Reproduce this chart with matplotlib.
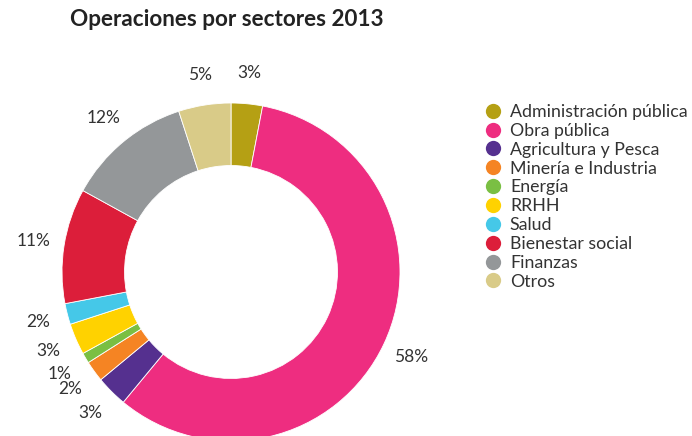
import matplotlib
matplotlib.use("Agg")
import matplotlib.pyplot as plt
from matplotlib.lines import Line2D

categories = ["Administración pública", "Obra pública", "Agricultura y Pesca",
              "Minería e Industria", "Energía", "RRHH", "Salud",
              "Bienestar social", "Finanzas", "Otros"]
values = [3, 58, 3, 2, 1, 3, 2, 11, 12, 5]
colors = ["#b5a014", "#ee2d80", "#55308f", "#f58423", "#7abf43",
          "#ffd200", "#45c8e8", "#dc1e3a", "#949799", "#d9cb88"]
title = "Operaciones por sectores 2013"

plt.rcParams['font.family'] = ['Lato', 'DejaVu Sans']

W, H = 692, 436
fig = plt.figure(figsize=(W / 100, H / 100), dpi=100)
ax = fig.add_axes([0, 0, 1, 1])

cx, cy, R = 231, 272, 169

labels = [f"{v}%" for v in values]
wedges, texts = ax.pie(values, colors=colors, startangle=90, counterclock=False,
                       radius=1.0, labels=labels, labeldistance=1.18,
                       wedgeprops=dict(width=0.37, edgecolor='white', linewidth=0.6),
                       textprops=dict(fontsize=12.5, color='#333333'))
for t in texts:
    t.set_ha('center')
    t.set_va('center')

ax.set_xlim(-cx / R, (W - cx) / R)
ax.set_ylim((cy - H) / R, cy / R)
ax.set_aspect('equal')
ax.axis('off')

fig.text(227 / W, 1 - 20 / H, title, ha='center', va='center',
         fontsize=16.2, fontweight='bold', color='#222222')

handles = [Line2D([0], [0], marker='o', linestyle='none', markersize=11,
                  markerfacecolor=c, markeredgecolor='none') for c in colors]
leg = fig.legend(handles, categories, loc='upper left',
                 bbox_to_anchor=(485 / W, 1 - 104 / H), frameon=False,
                 fontsize=12.8, labelspacing=0.16, handlelength=0.9,
                 handletextpad=0.5, borderpad=0, borderaxespad=0)
for t in leg.get_texts():
    t.set_color('#333333')

fig.savefig("out.png", dpi=100)
